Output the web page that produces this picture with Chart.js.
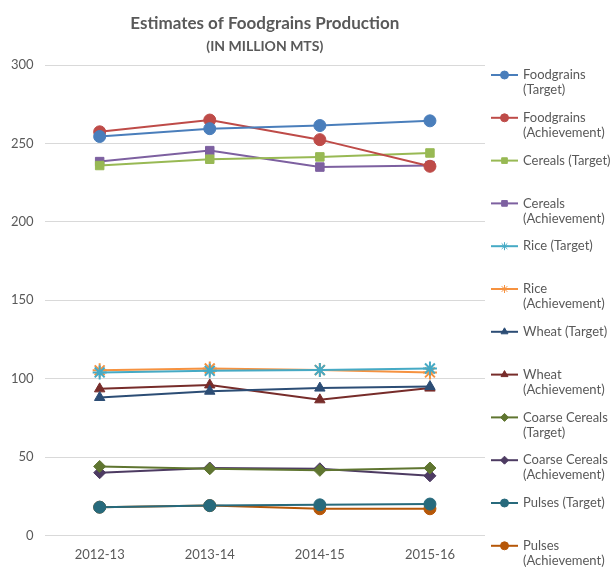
<!DOCTYPE html>
<html>
<head>
<meta charset="utf-8">
<script src="https://cdn.jsdelivr.net/npm/chart.js@4"></script>
<style>
  body { margin: 0; background: #fff; }
  canvas { display: block; }
</style>
</head>
<body>
<canvas id="foodChart" width="613" height="567"></canvas>
<script>
// Años (categorías del eje x)
const years = ['2012-13', '2013-14', '2014-15', '2015-16'];

// Valores (millones de toneladas)
const foodgrainsTarget = [254.5, 259.5, 261.5, 264.5];
const foodgrainsAchievement = [257.5, 265, 252.5, 235.5];
const cerealsTarget = [236, 240, 241.5, 244];
const cerealsAchievement = [238.5, 245.5, 235, 236];
const riceTarget = [104, 105, 105.5, 106.5];
const riceAchievement = [105.3, 106.5, 105.5, 104];
const wheatTarget = [88, 92, 94, 95];
const wheatAchievement = [93.5, 96, 86.5, 94];
const coarseTarget = [44, 42.5, 41.5, 43];
const coarseAchievement = [40, 43, 42.5, 38];
const pulsesTarget = [18, 19, 19.5, 20];
const pulsesAchievement = [18, 19, 17, 17];

const yTicks = [0, 50, 100, 150, 200, 250, 300];

const seriesNames = [
    ['Foodgrains', '(Target)'],
    ['Foodgrains', '(Achievement)'],
    ['Cereals (Target)'],
    ['Cereals', '(Achievement)'],
    ['Rice (Target)'],
    ['Rice', '(Achievement)'],
    ['Wheat (Target)'],
    ['Wheat', '(Achievement)'],
    ['Coarse Cereals', '(Target)'],
    ['Coarse Cereals', '(Achievement)'],
    ['Pulses (Target)'],
    ['Pulses', '(Achievement)']
];

const seriesData = [
    foodgrainsTarget, foodgrainsAchievement, cerealsTarget, cerealsAchievement,
    riceTarget, riceAchievement, wheatTarget, wheatAchievement,
    coarseTarget, coarseAchievement, pulsesTarget, pulsesAchievement
];

// Colores y marcadores al estilo Excel
const seriesColors = [
    '#4A7EBB', '#BE4B48', '#98B954', '#7D60A0', '#46AAC5', '#F69240',
    '#2C4D75', '#772C2A', '#5F7530', '#4D3B62', '#276A7C', '#B65708'
];
const seriesMarkers = [
    'circle', 'circle', 'rect', 'rect', 'star', 'star',
    'triangle', 'triangle', 'rectRot', 'rectRot', 'circle', 'circle'
];

const textColor = '#595959';
const fontFamily = "Lato, 'Open Sans', sans-serif";

const datasets = seriesData.map((data, i) => ({
    label: seriesNames[i].join(' '),
    data: data,
    borderColor: seriesColors[i],
    backgroundColor: seriesColors[i],
    borderWidth: 2,
    pointStyle: seriesMarkers[i],
    pointRadius: seriesMarkers[i] === 'star' ? 7 : 6,
    pointBorderWidth: seriesMarkers[i] === 'star' ? 2 : 1,
    tension: 0
}));

// Leyenda dibujada a mano para poder partir las etiquetas en dos líneas
const wrappedLegend = {
    id: 'wrappedLegend',
    afterDraw(chart) {
        const c = chart.ctx;
        const x0 = 491, lineLen = 27, textX = 523;
        const startY = 75, step = 42.8, lineH = 15;
        c.save();
        chart.data.datasets.forEach((ds, i) => {
            const y = startY + i * step;
            c.strokeStyle = ds.borderColor;
            c.fillStyle = ds.backgroundColor;
            c.lineWidth = 2;
            c.beginPath();
            c.moveTo(x0, y);
            c.lineTo(x0 + lineLen, y);
            c.stroke();
            c.lineWidth = 1;
            Chart.helpers.drawPoint(c, {
                pointStyle: ds.pointStyle,
                radius: 4,
                borderWidth: ds.pointStyle === 'star' ? 1.5 : 1,
                rotation: 0
            }, x0 + lineLen / 2, y);
            c.fillStyle = textColor;
            c.font = "13px " + fontFamily;
            c.textBaseline = 'middle';
            c.textAlign = 'left';
            seriesNames[i].forEach((t, k) => c.fillText(t, textX, y + k * lineH));
        });
        c.restore();
    }
};

new Chart(document.getElementById('foodChart').getContext('2d'), {
    type: 'line',
    data: { labels: years, datasets: datasets },
    options: {
        responsive: false,
        animation: false,
        layout: { padding: { left: 0, right: 128, top: 9, bottom: 0 } },
        plugins: {
            legend: { display: false },
            tooltip: { enabled: false },
            title: {
                display: true,
                fullSize: false,
                text: 'Estimates of Foodgrains Production',
                color: textColor,
                font: { family: fontFamily, size: 17, weight: 'bold' },
                padding: { top: 4, bottom: 3 }
            },
            subtitle: {
                display: true,
                fullSize: false,
                text: '(IN MILLION MTS)',
                color: textColor,
                font: { family: fontFamily, size: 14, weight: 'bold' },
                padding: { top: 2, bottom: 10 }
            }
        },
        scales: {
            x: {
                offset: true,
                grid: { display: false },
                border: { display: false },
                ticks: { color: textColor, font: { family: fontFamily, size: 13 }, padding: 4 }
            },
            y: {
                min: 0,
                max: 300,
                afterBuildTicks: axis => { axis.ticks = yTicks.map(v => ({ value: v })); },
                grid: { color: '#D9D9D9', drawTicks: false },
                border: { display: false },
                ticks: { color: textColor, font: { family: fontFamily, size: 13 }, padding: 11 }
            }
        }
    },
    plugins: [wrappedLegend]
});
</script>
</body>
</html>
